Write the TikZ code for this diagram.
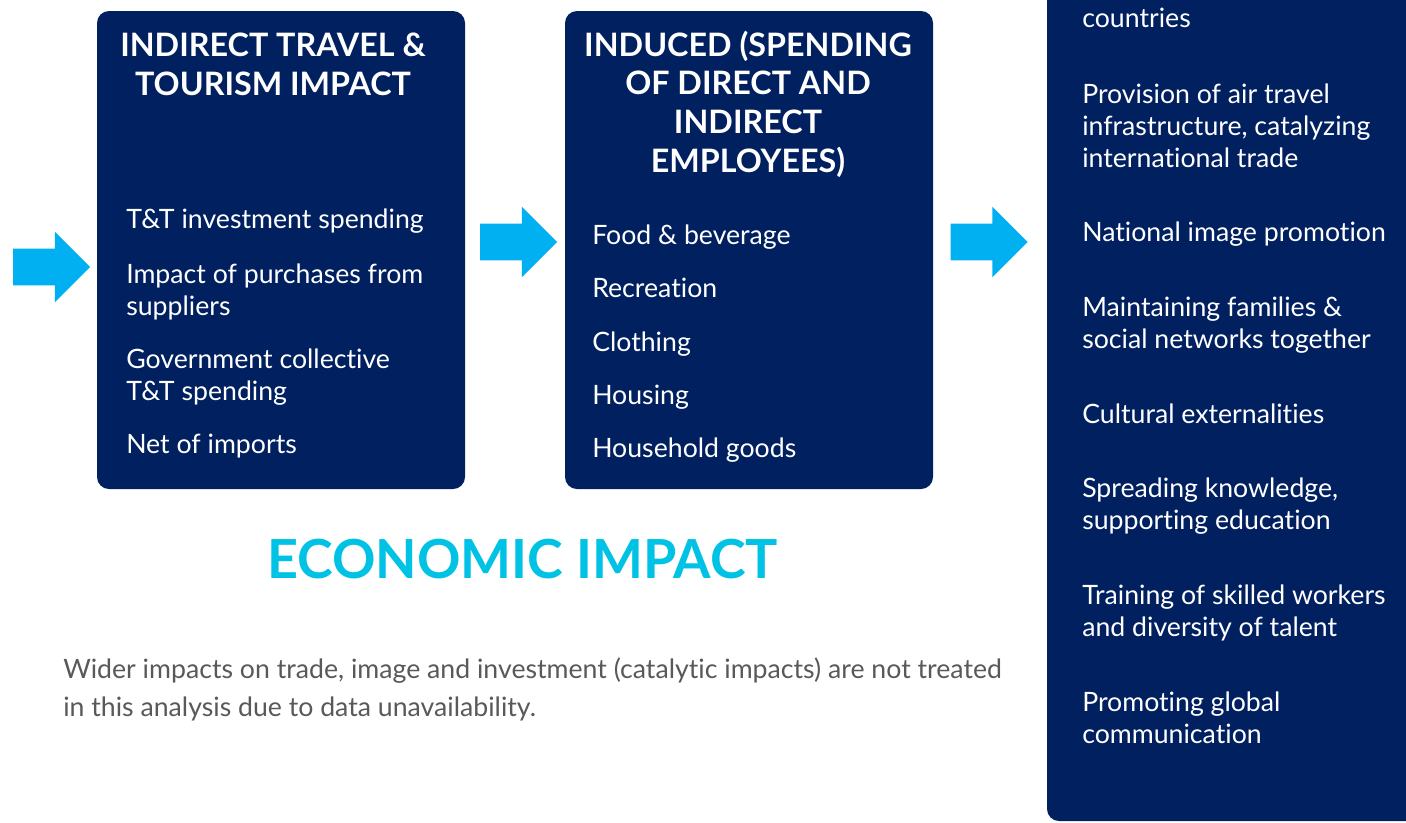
\documentclass[tikz,border=0pt]{standalone}
\usepackage{fontspec}
\setmainfont{Lato}[Ligatures=NoCommon]
\usetikzlibrary{shapes.arrows,positioning}
\usepackage{xcolor}
\definecolor{panelcol}{RGB}{0,32,96}
\definecolor{arrowcol}{RGB}{0,176,240}
\definecolor{headcol}{RGB}{0,194,228}
\definecolor{notecol}{RGB}{89,89,89}

\begin{document}
\begin{tikzpicture}[x=0.75pt, y=-0.75pt, every node/.style={inner sep=0pt},
  panel/.style={fill=panelcol, rounded corners=9pt, minimum width=276pt},
  flow/.style={single arrow, fill=arrowcol, inner ysep=13.5pt, minimum height=57.75pt, minimum width=52.5pt,
    single arrow head extend=12.75pt, single arrow tip angle=90, single arrow head indent=0pt},
  title/.style={text=white, align=center, anchor=base, font=\fontsize{24.2pt}{29pt}\selectfont\bfseries},
  item/.style={text=white, align=left, anchor=base west, font=\fontsize{20pt}{24pt}\selectfont}]
  % page 1406x822
  \path[use as bounding box] (0,0) rectangle (1406,822);
  \clip (0,0) rectangle (1406,822);

  % dark panels
  \node[panel, minimum height=358.5pt] (indirect) at (281,250) {};
  \node[panel, minimum height=358.5pt] (induced) at (749,250) {};
  \node[panel, minimum width=287.25pt, minimum height=645.75pt] (wider) at (1238.5,390.5) {};

  % block arrows (centre sits on the shaft, not the whole shape)
  \node[flow] (inflow) at (42.5,267) {};
  \node[flow] (flowa) at (509.5,242) {};
  \node[flow] (flowb) at (980,242) {};

  % indirect impact (base = last line)
  \node[title] (indirecttitle) at (273,95) {INDIRECT TRAVEL \&\\TOURISM IMPACT};
  \node[item] (invest) at (126,228) {T\&T investment spending};
  \node[item] (purchases) at (126,315) {Impact of purchases from\\suppliers};
  \node[item] (govt) at (126,400) {Government collective\\T\&T spending};
  \node[item] (imports) at (126,453) {Net of imports};

  % induced impact
  \node[title] (inducedtitle) at (748,172) {INDUCED (SPENDING\\OF DIRECT AND\\INDIRECT\\EMPLOYEES)};
  \node[item] (food) at (592,244) {Food \& beverage};
  \node[item] (recreation) at (592,297) {Recreation};
  \node[item] (clothing) at (592,351) {Clothing};
  \node[item] (housing) at (592,404) {Housing};
  \node[item] (household) at (592,457) {Household goods};

  % wider impacts
  \node[item] (countries) at (1082,27) {countries};
  \node[item] (airtravel) at (1082,167) {Provision of air travel\\infrastructure, catalyzing\\international trade};
  \node[item] (image) at (1082,241) {National image promotion};
  \node[item] (families) at (1082,348) {Maintaining families \&\\social networks together};
  \node[item] (culture) at (1082,423) {Cultural externalities};
  \node[item] (knowledge) at (1082,529) {Spreading knowledge,\\supporting education};
  \node[item] (training) at (1082,636) {Training of skilled workers\\and diversity of talent};
  \node[item] (comms) at (1082,743) {Promoting global\\communication};

  % caption and note
  \node[anchor=base, text=headcol, font=\fontsize{40.4pt}{48pt}\selectfont\bfseries] (economic) at (522.5,578) {ECONOMIC IMPACT};
  \node[anchor=base west, align=left, text=notecol, font=\fontsize{20pt}{28.5pt}\selectfont] (note) at (63,716)
    {Wider impacts on trade, image and investment (catalytic impacts) are not treated\\in this analysis due to data unavailability.};
\end{tikzpicture}
\end{document}
